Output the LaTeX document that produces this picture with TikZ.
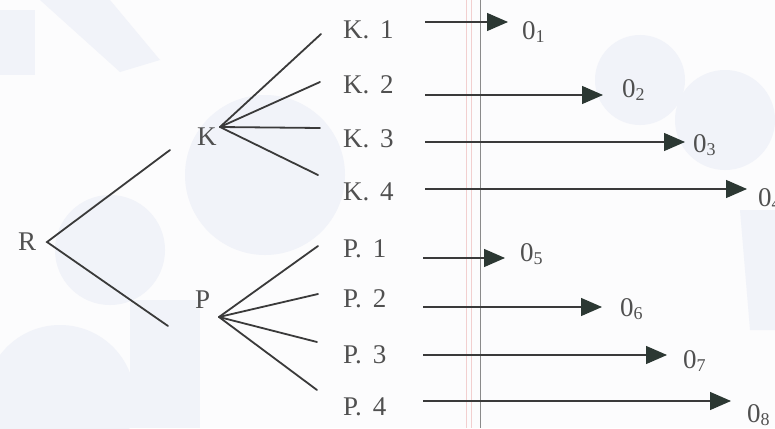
\documentclass[tikz,border=0pt]{standalone}
\usepackage{fontspec}
\setmainfont{Liberation Serif}
\usetikzlibrary{arrows.meta}
\definecolor{ink}{HTML}{3A3A3A}
\definecolor{txt}{HTML}{505050}
\definecolor{head}{HTML}{2C3833}
\definecolor{paper}{HTML}{FCFCFD}
\definecolor{rule}{HTML}{8A8A8A}
\definecolor{margin}{HTML}{F2CFCF}
\definecolor{mark}{HTML}{F1F3F9}
\newcommand\osub[1]{\raisebox{-3pt}{\fontsize{18}{18}\selectfont #1}}
\begin{document}
\begin{tikzpicture}[x=1pt,y=-1pt,
  branch/.style={draw=ink, line width=1.8pt, line cap=round},
  flow/.style={draw=ink, line width=1.3pt,
    -{Triangle[length=21pt,width=18pt,color=head]}},
  lab/.style={anchor=base west, inner sep=0pt, text=txt,
    font=\fontsize{27}{27}\selectfont},
  outlab/.style={lab},
  blot/.style={fill=mark}]
% page
\fill[paper] (0,0) rectangle (775,428);
\useasboundingbox (0,0) rectangle (775,428);
% faint logo pattern printed on the sheet
\fill[blot] (265,175) circle[radius=80];
\fill[blot] (110,250) circle[radius=55];
\fill[blot] (60,400) circle[radius=75];
\fill[blot] (640,80) circle[radius=45];
\fill[blot] (725,120) circle[radius=50];
\fill[blot] (40,0) -- (110,0) -- (160,60) -- (120,72) -- cycle;
\fill[blot] (0,10) -- (35,10) -- (35,75) -- (0,75) -- cycle;
\fill[blot] (740,210) -- (775,210) -- (775,330) -- (750,330) -- cycle;
\fill[blot] (130,300) -- (200,300) -- (200,428) -- (130,428) -- cycle;
% margin rules of the sheet
\draw[margin, line width=0.8pt] (466,0) -- (466,428);
\draw[margin, line width=0.8pt] (471,0) -- (471,428);
\draw[rule, line width=0.9pt] (480,0) -- (480,428);

% root and first level
\node[lab] (R) at (18,250) {R};
\node[lab] (K) at (197,145) {K};
\node[lab] (P) at (195,308) {P};
\coordinate (Ra) at (47,242);
\coordinate (Rk) at (170,150);
\coordinate (Rp) at (168,326);
\draw[branch] (Rk) -- (Ra) -- (Rp);

% K branches
\coordinate (Ka) at (220,127);
\coordinate (k1e) at (321,34);
\coordinate (k2e) at (320,82);
\coordinate (k3e) at (320,128);
\coordinate (k4e) at (318,175);
\foreach \e in {k1e,k2e,k3e,k4e} \draw[branch] (Ka) -- (\e);

% P branches
\coordinate (Pa) at (219,317);
\coordinate (p1e) at (318,246);
\coordinate (p2e) at (318,294);
\coordinate (p3e) at (317,342);
\coordinate (p4e) at (317,390);
\foreach \e in {p1e,p2e,p3e,p4e} \draw[branch] (Pa) -- (\e);

% leaf labels
\node[lab] (k1) at (343,38)  {K.\hspace{0.4em}1};
\node[lab] (k2) at (343,93)  {K.\hspace{0.4em}2};
\node[lab] (k3) at (343,147) {K.\hspace{0.4em}3};
\node[lab] (k4) at (343,200) {K.\hspace{0.4em}4};
\node[lab] (p1) at (343,257) {P.\hspace{0.4em}1};
\node[lab] (p2) at (343,307) {P.\hspace{0.4em}2};
\node[lab] (p3) at (343,363) {P.\hspace{0.4em}3};
\node[lab] (p4) at (343,415) {P.\hspace{0.4em}4};

% outcomes
\node[outlab] (o1) at (522,40)  {0\osub{1}};
\node[outlab] (o2) at (622,97)  {0\osub{2}};
\node[outlab] (o3) at (693,152) {0\osub{3}};
\node[outlab] (o4) at (758,206) {0\osub{4}};
\node[outlab] (o5) at (520,261) {0\osub{5}};
\node[outlab] (o6) at (620,316) {0\osub{6}};
\node[outlab] (o7) at (683,368) {0\osub{7}};
\node[outlab] (o8) at (747,422) {0\osub{8}};

% arrows from each leaf to its outcome
\coordinate (s1) at (425,22);  \coordinate (t1) at (508,22);
\coordinate (s2) at (425,95);  \coordinate (t2) at (603,95);
\coordinate (s3) at (425,142); \coordinate (t3) at (685,142);
\coordinate (s4) at (425,189); \coordinate (t4) at (747,189);
\coordinate (s5) at (423,258); \coordinate (t5) at (505,258);
\coordinate (s6) at (423,307); \coordinate (t6) at (602,307);
\coordinate (s7) at (423,355); \coordinate (t7) at (667,355);
\coordinate (s8) at (423,401); \coordinate (t8) at (731,401);
\foreach \i in {1,...,8} \draw[flow] (s\i) -- (t\i);
\end{tikzpicture}
\end{document}
